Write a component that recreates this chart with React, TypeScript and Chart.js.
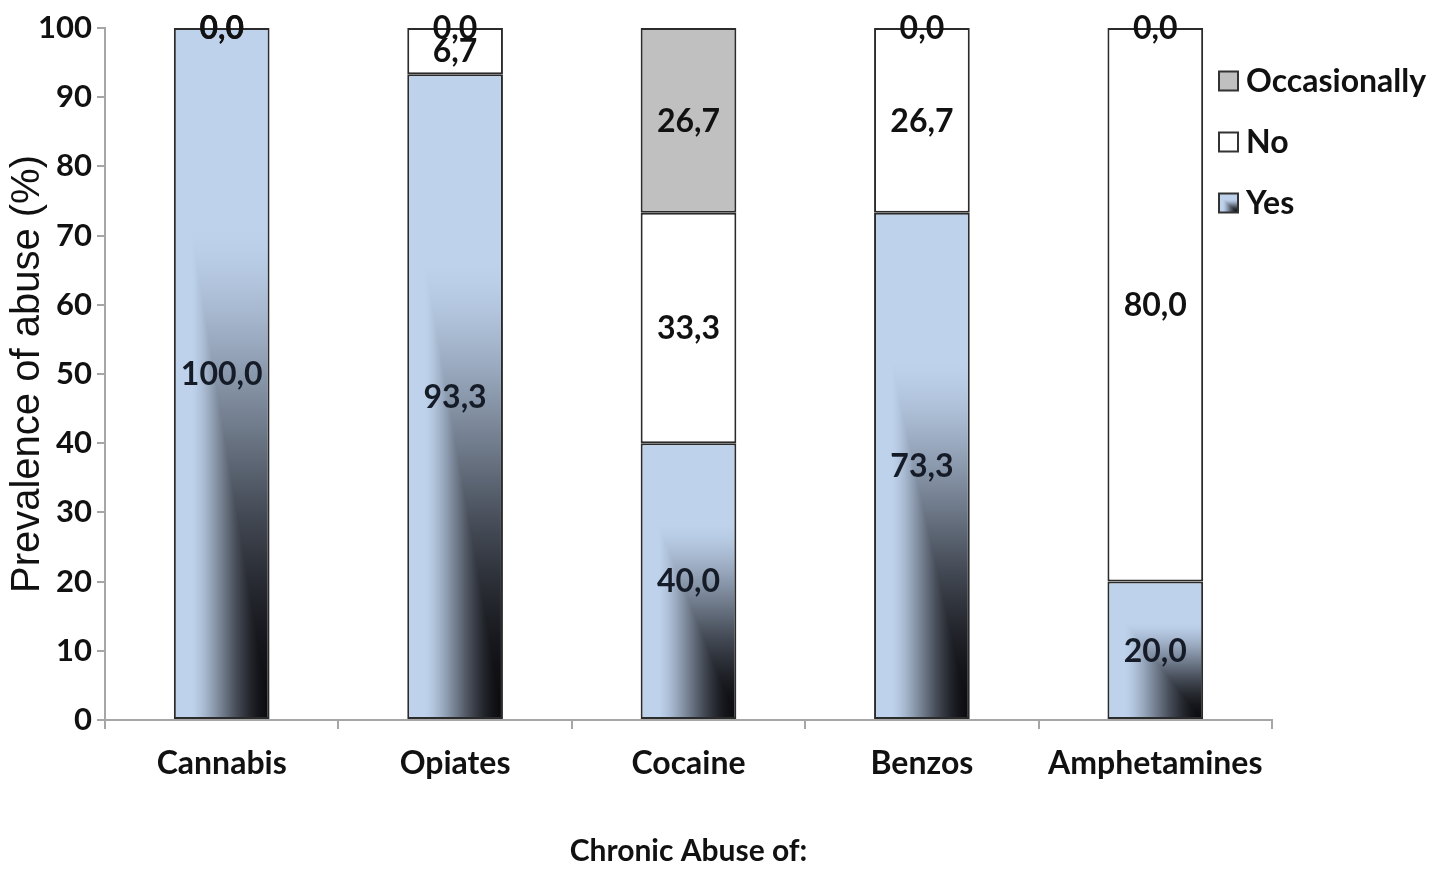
import React, { useEffect, useRef } from "react";
import { Chart, registerables } from "chart.js";

Chart.register(...registerables);

const categories = ["Cannabis", "Opiates", "Cocaine", "Benzos", "Amphetamines"];
const yesValues = [100.0, 93.3, 40.0, 73.3, 20.0];
const noValues = [0.0, 6.7, 33.3, 26.7, 80.0];
const occasionallyValues = [0.0, 0.0, 26.7, 0.0, 0.0];
const yTicks = [0, 10, 20, 30, 40, 50, 60, 70, 80, 90, 100];

const FONT = "Lato, 'Open Sans', sans-serif";
const LIGHT = [190, 210, 236];
const DARK = [12, 12, 16];

function makeGradientCanvas(w: number, h: number): HTMLCanvasElement {
  const c = document.createElement("canvas");
  const W = Math.max(1, Math.ceil(w)) | 0;
  const H = Math.max(1, Math.ceil(h)) | 0;
  c.width = W;
  c.height = H;
  const g = c.getContext("2d")!;
  const img = g.createImageData(W, H);
  for (let py = 0; py < H; py++) {
    for (let px = 0; px < W; px++) {
      const tx = px / W;
      const ty = (py / H - 0.14) / 0.86;
      const t = Math.min(tx, ty);
      let s = (t - 0.17) / 0.83;
      s = Math.max(0, Math.min(1, s));
      s = s * s * (3 - 2 * s);
      s = Math.pow(s, 0.8);
      const i = (py * W + px) * 4;
      img.data[i] = LIGHT[0] + (DARK[0] - LIGHT[0]) * s;
      img.data[i + 1] = LIGHT[1] + (DARK[1] - LIGHT[1]) * s;
      img.data[i + 2] = LIGHT[2] + (DARK[2] - LIGHT[2]) * s;
      img.data[i + 3] = 255;
    }
  }
  g.putImageData(img, 0, 0);
  return c;
}

const BAR_PCT = 0.41;

function yesFill(ctx: any) {
  const chart = ctx.chart;
  const xs = chart.scales && chart.scales.x;
  const ys = chart.scales && chart.scales.y;
  if (!xs || !ys || ctx.type !== "data") return "#bed2ec";
  const i = ctx.dataIndex;
  const v = ctx.raw as number;
  const catW = xs.width / categories.length;
  const w = catW * BAR_PCT;
  const cx = xs.getPixelForValue(i);
  const left = cx - w / 2;
  const top = ys.getPixelForValue(v);
  const bottom = ys.getPixelForValue(0);
  const h = bottom - top;
  if (![w, h, left, top].every((n) => Number.isFinite(n)) || h <= 1 || w <= 1) return "#bed2ec";
  const cnv = makeGradientCanvas(w, h);
  const pat = chart.ctx.createPattern(cnv, "no-repeat");
  if (!pat) return "#bed2ec";
  pat.setTransform(new DOMMatrix().translate(left, top));
  return pat;
}

const labelsPlugin = {
  id: "segLabels",
  afterDatasetsDraw(chart: any) {
    const ctx = chart.ctx;
    ctx.save();
    ctx.font = `bold 32px ${FONT}`;
    ctx.textAlign = "center";
    ctx.textBaseline = "middle";
    chart.data.datasets.forEach((ds: any, di: number) => {
      const meta = chart.getDatasetMeta(di);
      meta.data.forEach((bar: any, i: number) => {
        const v = ds.data[i] as number;
        const props = bar.getProps(["x", "y", "base"], true);
        const yc = (props.y + props.base) / 2;
        ctx.fillStyle = di === 0 ? "#151c28" : "#111111";
        ctx.fillText(v.toFixed(1).replace(".", ","), props.x, yc + 1);
      });
    });
    ctx.restore();
  },
};

const legendPlugin = {
  id: "customLegend",
  afterDraw(chart: any) {
    const ctx = chart.ctx;
    ctx.save();
    const x0 = 1219;
    const ys = [81, 142, 203];
    const order = [2, 1, 0];
    const box = 19;
    ctx.font = `bold 32px ${FONT}`;
    ctx.textBaseline = "middle";
    ctx.textAlign = "left";
    order.forEach((di, k) => {
      const ds = chart.data.datasets[di];
      const y = ys[k];
      if (di === 0) {
        const cnv = makeGradientCanvas(box, box);
        ctx.drawImage(cnv, x0, y - box / 2);
      } else {
        ctx.fillStyle = ds.legendColor;
        ctx.fillRect(x0, y - box / 2, box, box);
      }
      ctx.strokeStyle = "#333333";
      ctx.lineWidth = 2;
      ctx.strokeRect(x0, y - box / 2, box, box);
      ctx.fillStyle = "#111111";
      ctx.fillText(ds.label, x0 + box + 8, y + 1);
    });
    ctx.restore();
  },
};

export default function App() {
  const ref = useRef<HTMLCanvasElement | null>(null);
  useEffect(() => {
    document.body.style.margin = "0";
    const canvas = ref.current!;
    const chart = new Chart(canvas, {
      type: "bar",
      data: {
        labels: categories,
        datasets: [
          {
            label: "Yes",
            data: yesValues,
            backgroundColor: yesFill as any,
            borderColor: "#2b2b2b",
            borderWidth: 2,
            borderSkipped: false,
          },
          {
            label: "No",
            data: noValues,
            backgroundColor: "#ffffff",
            borderColor: "#2b2b2b",
            borderWidth: 2,
            borderSkipped: false,
            legendColor: "#ffffff",
          } as any,
          {
            label: "Occasionally",
            data: occasionallyValues,
            backgroundColor: "#c0c0c0",
            borderColor: "#2b2b2b",
            borderWidth: 2,
            borderSkipped: false,
            legendColor: "#c0c0c0",
          } as any,
        ],
      },
      options: {
        animation: false,
        responsive: false,
        maintainAspectRatio: false,
        devicePixelRatio: 1,
        layout: { padding: { left: 0, right: 169, top: 28, bottom: 0 } },
        datasets: { bar: { barPercentage: BAR_PCT, categoryPercentage: 1 } },
        plugins: { legend: { display: false }, tooltip: { enabled: false } },
        scales: {
          x: {
            stacked: true,
            grid: {
              display: true,
              drawOnChartArea: false,
              drawTicks: true,
              tickLength: 9,
              color: "#a6a6a6",
              lineWidth: 2,
              offset: true,
            },
            border: { display: true, color: "#a6a6a6", width: 2 },
            ticks: {
              color: "#111111",
              font: { family: FONT, size: 32, weight: "bold" },
              padding: 15,
              maxRotation: 0,
            },
            title: {
              display: true,
              text: "Chronic Abuse of:",
              color: "#111111",
              font: { family: FONT, size: 30, weight: "bold" },
              padding: { top: 40, bottom: 6 },
            },
            afterFit(scale: any) {
              scale.height = 155;
            },
          },
          y: {
            stacked: true,
            min: 0,
            max: 100,
            afterBuildTicks(scale: any) {
              scale.ticks = yTicks.map((v) => ({ value: v }));
            },
            grid: {
              display: true,
              drawOnChartArea: false,
              drawTicks: true,
              tickLength: 8,
              color: "#a6a6a6",
              lineWidth: 2,
            },
            border: { display: true, color: "#a6a6a6", width: 2 },
            ticks: {
              color: "#111111",
              font: { family: FONT, size: 31, weight: "bold" },
              padding: 5,
            },
            title: {
              display: true,
              text: "Prevalence of abuse (%)",
              color: "#111111",
              font: { family: "'Liberation Sans', Arial, sans-serif", size: 40, weight: "normal" },
              padding: { top: 4, bottom: 0 },
            },
            afterFit(scale: any) {
              scale.width = 105;
            },
          },
        },
      },
      plugins: [labelsPlugin, legendPlugin],
    });
    return () => chart.destroy();
  }, []);
  return (
    <div style={{ width: 1441, height: 875 }}>
      <canvas ref={ref} width={1441} height={875} style={{ display: "block", width: 1441, height: 875 }} />
    </div>
  );
}
